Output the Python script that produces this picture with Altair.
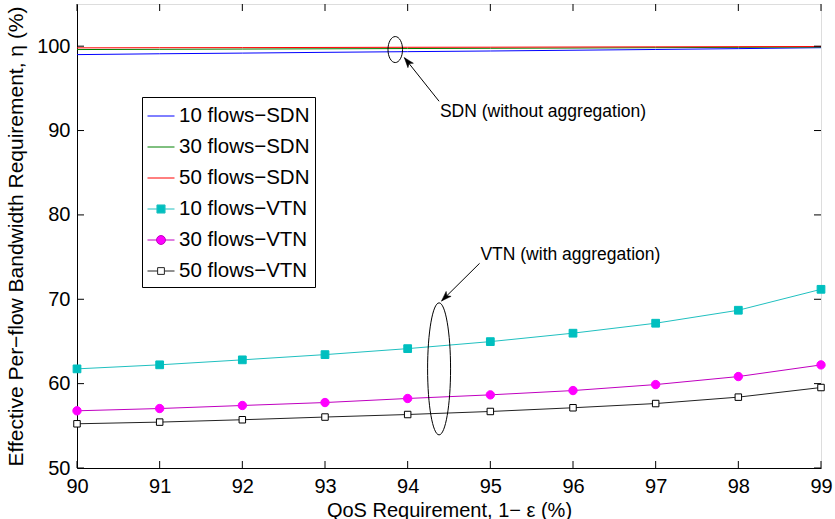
import altair as alt
import pandas as pd

# ---------------- data ----------------
qos = [90, 91, 92, 93, 94, 95, 96, 97, 98, 99]
sdn10 = [99.0, 99.1, 99.18, 99.27, 99.35, 99.43, 99.52, 99.61, 99.71, 99.82]
sdn30 = [99.6, 99.63, 99.66, 99.69, 99.72, 99.75, 99.78, 99.82, 99.86, 99.9]
sdn50 = [99.8, 99.82, 99.83, 99.85, 99.87, 99.88, 99.9, 99.92, 99.94, 99.96]
vtn10 = [61.75, 62.23, 62.82, 63.44, 64.15, 64.98, 65.98, 67.16, 68.70, 71.18]
vtn30 = [56.78, 57.05, 57.41, 57.76, 58.24, 58.67, 59.18, 59.89, 60.84, 62.22]
vtn50 = [55.24, 55.44, 55.72, 56.04, 56.34, 56.70, 57.14, 57.64, 58.40, 59.54]

names = ["10 flows−SDN", "30 flows−SDN", "50 flows−SDN",
         "10 flows−VTN", "30 flows−VTN", "50 flows−VTN"]
series_vals = [sdn10, sdn30, sdn50, vtn10, vtn30, vtn50]

xticks = [90, 91, 92, 93, 94, 95, 96, 97, 98, 99]
yticks = [50, 60, 70, 80, 90, 100]

# annotations
ell_x = [93.85, 94.38]
ell_y = [99.6, 61.75]
arrow_x = [94.38, 94.87]
arrow_y = [93.47, 74.26]
tip_x = [93.96, 94.41]
tip_y = [98.64, 69.8]
tip_angle = [321, 225]
ann_text = ["SDN (without aggregation)", "VTN (with aggregation)"]
ann_x = [94.39, 94.88]
ann_y = [92.2, 75.24]

# ---------------- styles ----------------
W, H = 744, 464
FONT = "Liberation Sans"
line_cols = ["#0000FF", "#008000", "#FF0000", "#20C0C0", "#C000C0", "#222222"]
mk_fill = [None, None, None, "#00BFBF", "#FF00FF", "#FFFFFF"]
mk_stroke = [None, None, None, "#00BFBF", "#FF00FF", "#000000"]
mk_shape = [None, None, None, "square", "circle", "square"]
mk_size = [None, None, None, 60, 70, 42]

LINE = "M-1,0L1,0"
leg_paths = [
    LINE, LINE, LINE,
    "M-1,0L-0.3,0M0.3,0L1,0M-0.3,-0.3L0.3,-0.3L0.3,0.3L-0.3,0.3Z",
    "M-1,0L-0.33,0M0.33,0L1,0M-0.33,0A0.33,0.33 0 1,0 0.33,0A0.33,0.33 0 1,0 -0.33,0Z",
    "M-1,0L-0.25,0M0.25,0L1,0M-0.25,-0.25L0.25,-0.25L0.25,0.25L-0.25,0.25Z",
]
leg_fill = ["transparent", "transparent", "transparent", "#00BFBF", "#FF00FF", "#FFFFFF"]
leg_stroke = ["#0000FF", "#008000", "#FF0000", "#20C0C0", "#C000C0", "#222222"]

rows = []
for n, vals in zip(names, series_vals):
    for q, v in zip(qos, vals):
        rows.append({"series": n, "qos": q, "eta": v})
df = pd.DataFrame(rows)

xs = alt.Scale(domain=[90, 99], nice=False, zero=False)
ys = alt.Scale(domain=[50, 105], nice=False, zero=False)

xax = alt.Axis(values=xticks, grid=False, ticks=False, format="d", labelPadding=8,
               labelFont=FONT, labelFontSize=20, labelColor="black",
               domainColor="black", title="QoS Requirement, 1− ε (%)",
               titleFont=FONT, titleFontSize=20, titleFontWeight="normal",
               titleColor="black", titlePadding=4, labelFlush=False)
yax = alt.Axis(values=yticks, grid=False, ticks=False, format="d", labelPadding=7,
               labelFont=FONT, labelFontSize=20, labelColor="black",
               domainColor="black",
               title="Effective Per−flow Bandwidth Requirement, η (%)",
               titleFont=FONT, titleFontSize=21, titleFontWeight="normal",
               titleColor="black", titlePadding=10, labelFlush=False)

layers = []
for i, n in enumerate(names):
    sub = alt.Chart(df).transform_filter(alt.datum.series == n)
    base_line = sub.mark_line(strokeWidth=1, color=line_cols[i]).encode(
        x=alt.X("qos:Q", scale=xs, axis=xax),
        y=alt.Y("eta:Q", scale=ys, axis=yax),
    )
    layers.append(base_line)
for i, n in enumerate(names):
    if mk_shape[i] is None:
        continue
    sub = alt.Chart(df).transform_filter(alt.datum.series == n)
    pts = sub.mark_point(shape=mk_shape[i], filled=True, fill=mk_fill[i],
                         stroke=mk_stroke[i], strokeWidth=1, size=mk_size[i],
                         opacity=1).encode(
        x=alt.X("qos:Q", scale=xs), y=alt.Y("eta:Q", scale=ys))
    layers.append(pts)

# legend layer (no visible marks)
legend_layer = alt.Chart(df).transform_filter("datum.qos < 0").mark_point(
    opacity=1, strokeWidth=1).encode(
    x=alt.X("qos:Q", scale=xs), y=alt.Y("eta:Q", scale=ys),
    shape=alt.Shape("series:N", scale=alt.Scale(domain=names, range=leg_paths),
                    legend=alt.Legend(title=None, orient="none", legendX=65, legendY=93,
                                      symbolSize=729, symbolStrokeWidth=1,
                                      labelFont=FONT, labelFontSize=20.5,
                                      labelColor="black", labelOffset=4,
                                      rowPadding=6, padding=5, strokeColor="black",
                                      fillColor="white", labelLimit=400)),
    fill=alt.Fill("series:N", scale=alt.Scale(domain=names, range=leg_fill)),
    stroke=alt.Stroke("series:N", scale=alt.Scale(domain=names, range=leg_stroke)),
)
layers.append(legend_layer)

# inward ticks
ydf = pd.DataFrame({"v": yticks})
xdf = pd.DataFrame({"v": xticks})
tk = dict(color="black", strokeWidth=1)
layers += [
    alt.Chart(ydf).mark_rule(**tk).encode(y=alt.Y("v:Q", scale=ys), x=alt.value(0), x2=alt.value(7)),
    alt.Chart(ydf).mark_rule(**tk).encode(y=alt.Y("v:Q", scale=ys), x=alt.value(W), x2=alt.value(W - 7)),
    alt.Chart(xdf).mark_rule(**tk).encode(x=alt.X("v:Q", scale=xs), y=alt.value(H), y2=alt.value(H - 7)),
    alt.Chart(xdf).mark_rule(**tk).encode(x=alt.X("v:Q", scale=xs), y=alt.value(0), y2=alt.value(7)),
]

# annotations
ell_df = pd.DataFrame({"x": ell_x, "y": ell_y,
                       "shape": ["M0,-1A0.56,1 0 1,1 0,1A0.56,1 0 1,1 0,-1Z",
                                 "M0,-1A0.174,1 0 1,1 0,1A0.174,1 0 1,1 0,-1Z"],
                       "size": [676, 17424]})
for i in range(2):
    layers.append(alt.Chart(ell_df.iloc[[i]]).mark_point(
        shape=ell_df["shape"][i], size=int(ell_df["size"][i]), filled=False,
        stroke="black", strokeWidth=1, opacity=1).encode(
        x=alt.X("x:Q", scale=xs), y=alt.Y("y:Q", scale=ys)))

arr_df = pd.DataFrame({"x": arrow_x, "y": arrow_y, "x2": tip_x, "y2": tip_y,
                       "ang": tip_angle})
layers.append(alt.Chart(arr_df).mark_rule(color="black", strokeWidth=1).encode(
    x=alt.X("x:Q", scale=xs), y=alt.Y("y:Q", scale=ys), x2="x2:Q", y2="y2:Q"))
for i in range(2):
    layers.append(alt.Chart(arr_df.iloc[[i]]).mark_point(
        shape="M0,0L-0.35,1L0,0.75L0.35,1Z", size=400, filled=True, fill="black",
        stroke="black", strokeWidth=0.5, opacity=1, angle=tip_angle[i]).encode(
        x=alt.X("x2:Q", scale=xs), y=alt.Y("y2:Q", scale=ys)))

txt_df = pd.DataFrame({"x": ann_x, "y": ann_y, "t": ann_text})
layers.append(alt.Chart(txt_df).mark_text(align="left", baseline="middle", font=FONT,
                                          fontSize=17.5, color="black").encode(
    x=alt.X("x:Q", scale=xs), y=alt.Y("y:Q", scale=ys), text="t:N"))

chart = alt.layer(*layers).properties(
    width=W, height=H,
    autosize=alt.AutoSizeParams(type="none"),
    padding={"left": 77, "top": 4, "right": 14, "bottom": 51},
).configure_view(stroke="black", strokeWidth=1).configure(background="white")

chart.save("out.html", embed_options={"renderer": "svg", "actions": False})
